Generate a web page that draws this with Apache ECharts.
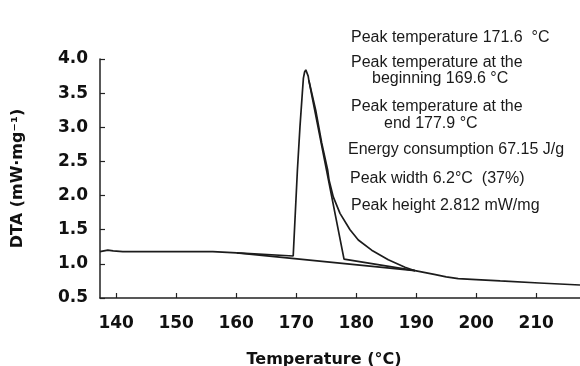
<!DOCTYPE html>
<html>
<head>
<meta charset="utf-8">
<script src="https://cdn.jsdelivr.net/npm/echarts@6/dist/echarts.min.js"></script>
<style>
  html, body { margin: 0; padding: 0; background: #ffffff; }
  #chart { width: 580px; height: 366px; }
</style>
</head>
<body>
<div id="chart"></div>
<script>
// DTA curve (temperature in °C, signal in mW/mg)
const dtaTemp = [137.3, 138.6, 139.5, 141.1, 156.1, 160.1, 169.5, 170.2, 170.63, 171.02, 171.2, 171.4, 171.6, 171.8, 172.0, 172.1, 173.25, 174.25, 175.25, 175.47, 176.18, 177.3, 178.97, 180.35, 182.58, 185.35, 188.13, 189.8, 193.0, 195.0, 197.0, 200.0, 204.0, 210.5, 217.3];
const dtaValue = [1.18, 1.20, 1.19, 1.18, 1.18, 1.16, 1.115, 2.37, 3.01, 3.50, 3.72, 3.81, 3.84, 3.82, 3.75, 3.69, 3.25, 2.77, 2.37, 2.23, 1.98, 1.74, 1.50, 1.35, 1.20, 1.06, 0.95, 0.90, 0.845, 0.81, 0.785, 0.77, 0.75, 0.72, 0.69];

// straight baseline under the peak
const baseTemp = [160.1, 189.8];
const baseValue = [1.16, 0.90];

// construction line from the peak to the end point
const tangentTemp = [172.1, 177.97, 189.8];
const tangentValue = [3.69, 1.07, 0.90];

const notes = [
  'Peak temperature 171.6  °C',
  'Peak temperature at the',
  'beginning 169.6 °C',
  'Peak temperature at the',
  'end 177.9 °C',
  'Energy consumption 67.15 J/g',
  'Peak width 6.2°C  (37%)',
  'Peak height 2.812 mW/mg'
];
const noteX = [351, 351, 372, 351, 384, 348, 350, 351];
const noteY = [38, 63, 79, 107, 124, 150, 179, 206];

const pairs = (xs, ys) => xs.map((x, i) => [x, ys[i]]);

const chart = echarts.init(document.getElementById('chart'));

const lineStyle = { color: '#1c1c1c', width: 1.7 };

chart.setOption({
  animation: false,
  grid: { left: 100, right: 0, top: 59, bottom: 68, outerBoundsMode: 'none', containLabel: false },
  xAxis: {
    type: 'value',
    min: 137.3,
    max: 217.3,
    splitNumber: 8,
    name: 'Temperature (°C)',
    nameLocation: 'middle',
    nameGap: 54,
    nameTextStyle: {
      fontFamily: 'DejaVu Sans',
      fontWeight: 'bold',
      fontSize: 16,
      color: '#111',
      padding: [0, 32, 0, 0]
    },
    axisLine: { lineStyle: { color: '#222', width: 1.5 } },
    axisTick: { inside: true, length: 5, lineStyle: { color: '#222', width: 1.2 } },
    axisLabel: {
      showMinLabel: false,
      showMaxLabel: false,
      margin: 17,
      fontFamily: 'DejaVu Sans',
      fontWeight: 'bold',
      fontSize: 17,
      color: '#111'
    },
    splitLine: { show: false }
  },
  yAxis: {
    type: 'value',
    min: 0.5,
    max: 4,
    interval: 0.5,
    name: 'DTA (mW·mg⁻¹)',
    nameLocation: 'middle',
    nameRotate: 90,
    nameGap: 74,
    nameTextStyle: {
      fontFamily: 'DejaVu Sans',
      fontWeight: 'bold',
      fontSize: 16,
      color: '#111'
    },
    axisLine: { show: true, lineStyle: { color: '#222', width: 1.5 } },
    axisTick: { show: true, inside: true, length: 5, lineStyle: { color: '#222', width: 1.2 } },
    axisLabel: {
      margin: 12,
      formatter: (v) => v.toFixed(1),
      fontFamily: 'DejaVu Sans',
      fontWeight: 'bold',
      fontSize: 17,
      color: '#111'
    },
    splitLine: { show: false }
  },
  series: [
    {
      type: 'line',
      data: pairs(baseTemp, baseValue),
      showSymbol: false,
      lineStyle
    },
    {
      type: 'line',
      data: pairs(tangentTemp, tangentValue),
      showSymbol: false,
      lineStyle
    },
    {
      type: 'line',
      data: pairs(dtaTemp, dtaValue),
      showSymbol: false,
      lineStyle
    }
  ],
  graphic: notes.map((text, i) => ({
    type: 'text',
    x: noteX[i],
    y: noteY[i],
    style: {
      text,
      fill: '#1a1a1a',
      font: '16px "Liberation Sans", Arial, sans-serif',
      verticalAlign: 'middle'
    }
  }))
});
</script>
</body>
</html>
